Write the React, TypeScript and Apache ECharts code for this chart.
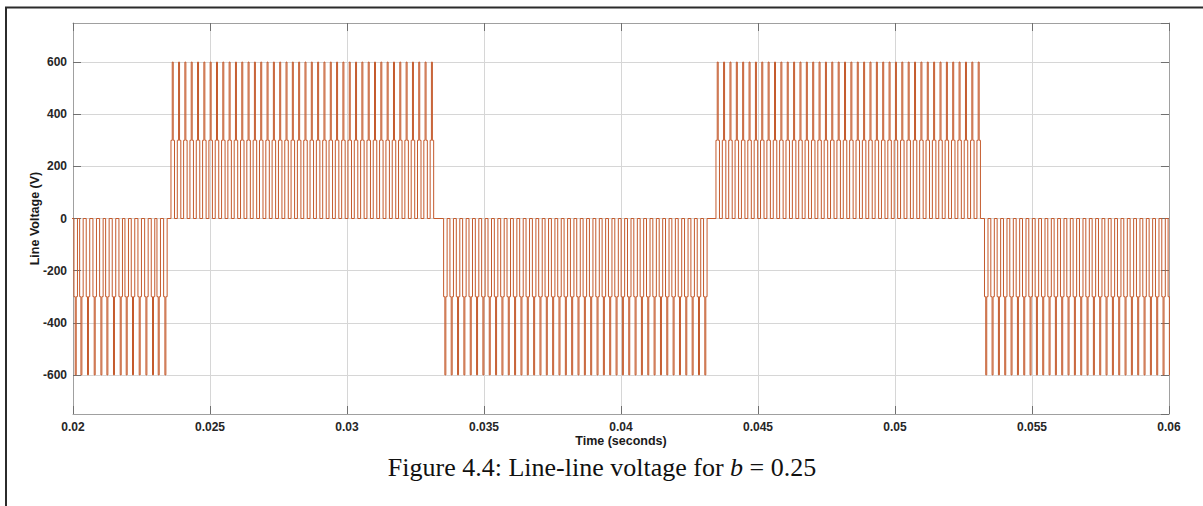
import React, { useEffect, useRef } from "react";
import * as echarts from "echarts";

// Time window shown on the x axis (ms)
const timeWindow = [20, 60];
const xTickLabels = ["0.02", "0.025", "0.03", "0.035", "0.04", "0.045", "0.05", "0.055", "0.06"];
const yTickLabels = ["-600", "-400", "-200", "0", "200", "400", "600"];

// Inverter voltage levels (V)
const innerLevel = 300;
const outerLevel = 600;

// Shape of one switching pulse around its centre (ms)
const innerHalfWidth = 0.064;
const outerHalfWidth = 0.018;

// Sign of the line voltage in each half cycle
const halfCyclePolarity = [-1, 1, -1, 1, -1];

// Pulse centres for each half cycle (ms)
const pulsesH0 = [
  19.865, 20.099, 20.307, 20.547, 20.792, 21.036, 21.255, 21.496, 21.741, 21.96, 22.19, 22.434,
  22.679, 22.92, 23.128, 23.372,
];
const pulsesH1 = [
  23.64, 23.871, 24.101, 24.332, 24.563, 24.794, 25.024, 25.255, 25.486, 25.716, 25.947, 26.178,
  26.408, 26.639, 26.87, 27.101, 27.331, 27.562, 27.793, 28.023, 28.254, 28.485, 28.715, 28.946,
  29.177, 29.408, 29.638, 29.869, 30.1, 30.33, 30.561, 30.792, 31.022, 31.253, 31.484, 31.715,
  31.945, 32.176, 32.407, 32.637, 32.868, 33.099,
];
const pulsesH2 = [
  33.59, 33.821, 34.053, 34.284, 34.516, 34.747, 34.978, 35.21, 35.441, 35.673, 35.904, 36.135,
  36.367, 36.598, 36.83, 37.061, 37.292, 37.524, 37.755, 37.987, 38.218, 38.449, 38.681, 38.912,
  39.144, 39.375, 39.606, 39.838, 40.069, 40.301, 40.532, 40.763, 40.995, 41.226, 41.458, 41.689,
  41.92, 42.152, 42.383, 42.615, 42.846, 43.077,
];
const pulsesH3 = [
  43.53, 43.762, 43.995, 44.227, 44.459, 44.692, 44.924, 45.156, 45.388, 45.621, 45.853, 46.085,
  46.318, 46.55, 46.782, 47.015, 47.247, 47.479, 47.711, 47.944, 48.176, 48.408, 48.641, 48.873,
  49.105, 49.338, 49.57, 49.802, 50.034, 50.267, 50.499, 50.731, 50.964, 51.196, 51.428, 51.661,
  51.893, 52.125, 52.357, 52.59, 52.822, 53.054,
];
const pulsesH4 = [
  53.33, 53.561, 53.792, 54.023, 54.254, 54.486, 54.717, 54.948, 55.179, 55.41, 55.641, 55.872,
  56.103, 56.334, 56.565, 56.797, 57.028, 57.259, 57.49, 57.721, 57.952, 58.183, 58.414, 58.645,
  58.876, 59.108, 59.339, 59.57, 59.801, 60.032,
];
const halfCyclePulses = [pulsesH0, pulsesH1, pulsesH2, pulsesH3, pulsesH4];

// Expand the pulse list into the stepped line-voltage trace, in seconds
function buildTrace(): [number, number][] {
  const pts: [number, number][] = [[timeWindow[0] - 0.5, 0]];
  halfCyclePulses.forEach((centres, i) => {
    const s = halfCyclePolarity[i];
    centres.forEach((c) => {
      const a = c - innerHalfWidth;
      const b = c - outerHalfWidth;
      const d = c + outerHalfWidth;
      const e = c + innerHalfWidth;
      pts.push(
        [a, 0],
        [a, s * innerLevel],
        [b, s * innerLevel],
        [b, s * outerLevel],
        [d, s * outerLevel],
        [d, s * innerLevel],
        [e, s * innerLevel],
        [e, 0]
      );
    });
  });
  pts.push([timeWindow[1] + 0.5, 0]);
  return pts.map(([t, v]) => [t / 1000, v]);
}

const labelFont = { fontFamily: "Liberation Sans, Arial, sans-serif", fontWeight: "bold" as const };
const boxColor = "#a0a0a0";
const tickColor = "#707070";
const gridColor = "#d6d6d6";

export default function App() {
  const ref = useRef<HTMLDivElement>(null);

  useEffect(() => {
    if (!ref.current) return;
    const chart = echarts.init(ref.current, undefined, { renderer: "svg" });
    const xMin = timeWindow[0] / 1000;
    const xMax = timeWindow[1] / 1000;

    const sharedX = {
      type: "value" as const,
      min: xMin,
      max: xMax,
      interval: 0.005,
      axisLine: { show: true, onZero: false, lineStyle: { color: boxColor, width: 1 } },
      axisTick: { show: true, inside: true, length: 8, lineStyle: { color: tickColor } },
    };
    const sharedY = {
      type: "value" as const,
      min: -750,
      max: 750,
      splitNumber: 7,
      axisLine: { show: true, onZero: false, lineStyle: { color: boxColor, width: 1 } },
      axisTick: { show: true, inside: true, length: 8, lineStyle: { color: tickColor } },
    };

    chart.setOption({
      animation: false,
      grid: { left: 73, right: 34, top: 23, bottom: 92, containLabel: false },
      xAxis: [
        {
          ...sharedX,
          position: "bottom",
          name: "Time (seconds)",
          nameLocation: "middle",
          nameGap: 20,
          nameMoveOverlap: false,
          nameTextStyle: { ...labelFont, fontSize: 12.5, color: "#1a1a1a" },
          axisLabel: {
            ...labelFont,
            fontSize: 12,
            color: "#262626",
            margin: 7,
            formatter: (v: number) => xTickLabels[Math.round((v - xMin) / 0.005)] ?? "",
          },
          splitLine: { show: true, lineStyle: { color: gridColor, width: 1 } },
        },
        {
          ...sharedX,
          position: "top",
          axisLabel: { show: false },
          splitLine: { show: false },
        },
      ],
      yAxis: [
        {
          ...sharedY,
          position: "left",
          name: "Line Voltage (V)",
          nameLocation: "middle",
          nameRotate: 90,
          nameGap: 32,
          nameMoveOverlap: false,
          nameTextStyle: { ...labelFont, fontSize: 12.5, color: "#1a1a1a" },
          axisLabel: {
            ...labelFont,
            fontSize: 12,
            color: "#262626",
            margin: 6,
            showMinLabel: false,
            showMaxLabel: false,
            formatter: (v: number) => {
              const s = String(Math.round(v));
              return yTickLabels.includes(s) ? s : "";
            },
          },
          splitLine: { show: true, lineStyle: { color: gridColor, width: 1 } },
        },
        {
          ...sharedY,
          position: "right",
          axisLabel: { show: false },
          splitLine: { show: false },
        },
      ],
      series: [
        {
          type: "line",
          data: buildTrace(),
          showSymbol: false,
          symbol: "none",
          silent: true,
          clip: true,
          lineStyle: { color: "#c45a2c", width: 1 },
          emphasis: { disabled: true },
        },
      ],
      graphic: [
        {
          type: "polyline",
          silent: true,
          shape: { points: [[6, 506], [6, 7.5], [1203, 7.5]] },
          style: { stroke: "#2b2b2b", lineWidth: 2, fill: "none" },
        },
        {
          type: "text",
          silent: true,
          x: 602,
          y: 467,
          style: {
            text: "{n|Figure 4.4: Line-line voltage for }{i|b}{n| = 0.25}",
            align: "center",
            verticalAlign: "middle",
            rich: {
              n: { fontFamily: "Liberation Serif, Times New Roman, serif", fontSize: 26, fill: "#111" },
              i: {
                fontFamily: "Liberation Serif, Times New Roman, serif",
                fontSize: 26,
                fontStyle: "italic",
                fill: "#111",
              },
            },
          },
        },
      ],
    });

    return () => chart.dispose();
  }, []);

  return (
    <div
      ref={ref}
      style={{ position: "absolute", left: 0, top: 0, width: 1203, height: 506, background: "#fff" }}
    />
  );
}
